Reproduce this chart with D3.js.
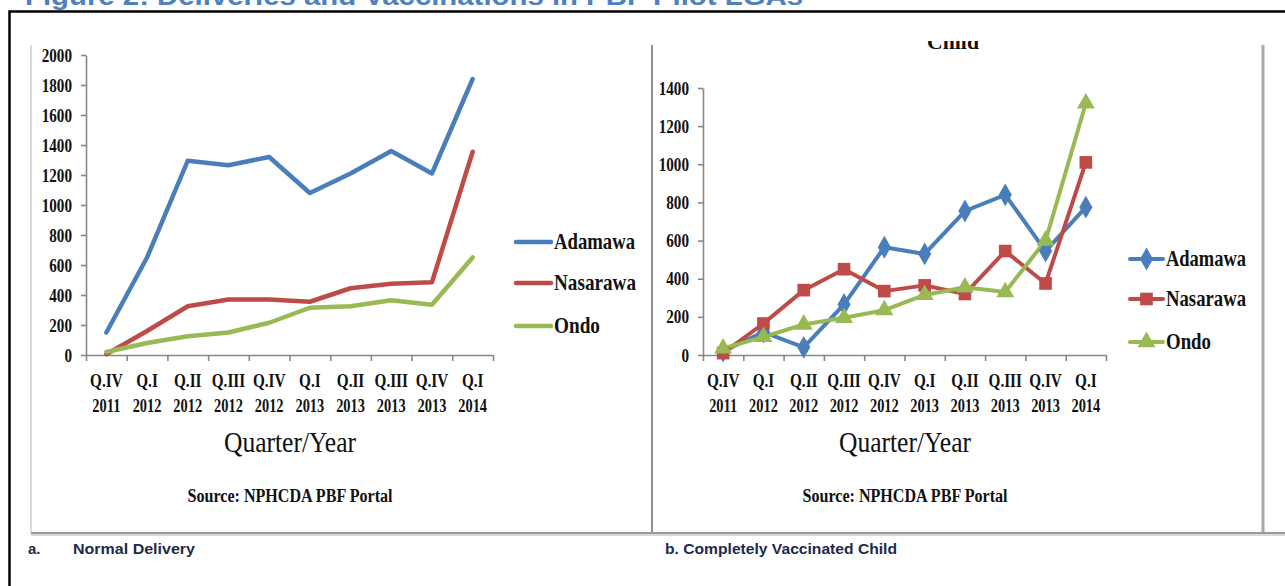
<!DOCTYPE html>
<html><head><meta charset="utf-8">
<script src="https://cdn.jsdelivr.net/npm/d3@7"></script>
<style>body{margin:0;background:#fff;} svg{display:block}</style>
</head><body><svg id="c" width="1285" height="586"></svg>
<script>
// ---- data ----
const quarters = ["Q.IV","Q.I","Q.II","Q.III","Q.IV","Q.I","Q.II","Q.III","Q.IV","Q.I"];
const years = ["2011","2012","2012","2012","2012","2013","2013","2013","2013","2014"];
const seriesNames = ["Adamawa","Nasarawa","Ondo"];
const seriesColors = ["#4A7EBB","#BE4B48","#98B954"];
const deliveryAdamawa = [150,650,1295,1265,1320,1080,1210,1360,1210,1840];
const deliveryNasarawa = [5,160,325,370,370,355,445,475,485,1355];
const deliveryOndo = [20,80,125,150,215,315,325,365,335,650];
const vaccAdamawa = [20,120,40,265,565,530,755,840,545,775];
const vaccNasarawa = [10,165,340,450,335,365,320,545,375,1010];
const vaccOndo = [35,95,160,195,235,315,355,330,600,1320];
const deliveryTicks = d3.range(0, 2001, 200);
const vaccTicks = d3.range(0, 1401, 200);
const figureTitle = "Figure 2: Deliveries and Vaccinations in PBF Pilot LGAs";
const axisTitle = "Quarter/Year";
const sourceText = "Source: NPHCDA PBF Portal";
const captionA = ["a.", "Normal Delivery"];
const captionB = "b. Completely Vaccinated Child";

const svg = d3.select("#c");
const SERIF = "'Liberation Serif','Times New Roman',serif";
const SANS = "'Liberation Sans',Arial,sans-serif";
const INK = "#111";

function label(parent, x, y, str, o) {
  const g = parent.append("g").attr("transform", `translate(${x},${y}) scale(${o.sx||1},1)`);
  const t = g.append("text")
    .attr("text-anchor", o.anchor || "middle")
    .attr("font-family", o.family || SERIF)
    .attr("font-size", o.size)
    .attr("font-weight", o.weight || "bold")
    .attr("fill", o.fill || INK)
    .text(str);
  if (o.len) t.attr("textLength", o.len).attr("lengthAdjust", "spacingAndGlyphs");
  return t;
}

// ---- figure title (clipped at top, as in the source page) ----
svg.append("text").attr("x", 25).attr("y", 5)
  .attr("font-family", SANS).attr("font-weight", "bold").attr("font-size", 26)
  .attr("fill", "#4F81BD").attr("textLength", 778).attr("lengthAdjust", "spacingAndGlyphs")
  .text(figureTitle);

// ---- frames ----
svg.append("path").attr("d", "M9.5,586V11.5H1285").attr("fill", "none").attr("stroke", "#000").attr("stroke-width", 2.5);
svg.append("line").attr("x1", 31).attr("x2", 31).attr("y1", 45).attr("y2", 533).attr("stroke", "#dadada").attr("stroke-width", 2);
svg.append("line").attr("x1", 652).attr("x2", 652).attr("y1", 45).attr("y2", 533).attr("stroke", "#8f8f8f").attr("stroke-width", 2);
svg.append("line").attr("x1", 1263).attr("x2", 1263).attr("y1", 45).attr("y2", 533).attr("stroke", "#a8a8a8").attr("stroke-width", 3);
svg.append("line").attr("x1", 31).attr("x2", 1285).attr("y1", 535).attr("y2", 535).attr("stroke", "#d8d8d8").attr("stroke-width", 2);
svg.append("line").attr("x1", 31).attr("x2", 1285).attr("y1", 533).attr("y2", 533).attr("stroke", "#9a9a9a").attr("stroke-width", 2);

// ---- chart builder ----
function chart(cfg) {
  const g = svg.append("g");
  const x = d3.scaleBand().domain(d3.range(quarters.length)).range([cfg.x0, cfg.x1]).paddingInner(0).paddingOuter(0);
  const xb = d3.scaleLinear().domain([0, quarters.length]).range([cfg.x0, cfg.x1]);
  const y = d3.scaleLinear().domain([0, cfg.max]).range([cfg.yb, cfg.yt]);
  const cx = i => x(i) + x.bandwidth() / 2;

  const ya = g.append("g").attr("transform", `translate(${cfg.x0},0)`)
    .call(d3.axisLeft(y).tickValues(cfg.ticks).tickSize(5).tickSizeOuter(0).tickFormat(""));
  const xa = g.append("g").attr("transform", `translate(0,${cfg.yb})`)
    .call(d3.axisBottom(xb).tickValues(d3.range(quarters.length + 1)).tickSize(6).tickSizeOuter(0).tickFormat(""));
  [ya, xa].forEach(a => {
    a.selectAll("path,line").attr("stroke", "#888").attr("stroke-width", 1.6);
  });

  cfg.ticks.forEach(v => label(g, cfg.x0 - 14, y(v) + 6.5, String(v), {size: 18.5, sx: 0.82, anchor: "end"}));
  quarters.forEach((q, i) => {
    label(g, cx(i), cfg.yb + 32, q, {size: 19.5, sx: 0.78});
    label(g, cx(i), cfg.yb + 57, years[i], {size: 19.5, sx: 0.74});
  });
  label(g, cfg.titleX, 452, axisTitle, {size: 30, weight: "normal", len: 132});
  label(g, cfg.titleX, 502, sourceText, {size: 18, len: 205});

  const line = d3.line().x((d, i) => cx(i)).y(d => y(d));
  const syms = [d3.symbolDiamond, d3.symbolSquare, d3.symbolTriangle];
  const symSize = [150, 160, 140];
  cfg.series.forEach((s, k) => {
    g.append("path").datum(s).attr("d", line).attr("fill", "none")
      .attr("stroke", seriesColors[k]).attr("stroke-width", cfg.lw)
      .attr("stroke-linejoin", "round").attr("stroke-linecap", "round");
  });
  if (cfg.markers) {
    cfg.series.forEach((s, k) => {
      g.selectAll(null).data(s).join("path")
        .attr("transform", (d, i) => `translate(${cx(i)},${y(d)})`)
        .attr("d", d3.symbol().type(syms[k]).size(symSize[k]))
        .attr("fill", seriesColors[k]);
    });
  }
  seriesNames.forEach((n, k) => {
    const ly = cfg.legY[k];
    g.append("line").attr("x1", cfg.legX0).attr("x2", cfg.legX1).attr("y1", ly).attr("y2", ly)
      .attr("stroke", seriesColors[k]).attr("stroke-width", cfg.lw).attr("stroke-linecap", "round");
    if (cfg.markers) {
      g.append("path").attr("transform", `translate(${(cfg.legX0 + cfg.legX1) / 2},${ly})`)
        .attr("d", d3.symbol().type(syms[k]).size(symSize[k])).attr("fill", seriesColors[k]);
    }
    label(g, cfg.legX1 + 3, ly + 7, n, {size: 24, anchor: "start", len: cfg.legLen[k]});
  });
  return g;
}

chart({x0: 86, x1: 493, yt: 55, yb: 355, max: 2000, ticks: deliveryTicks,
  series: [deliveryAdamawa, deliveryNasarawa, deliveryOndo], markers: false, lw: 4.5,
  titleX: 290, legX0: 516, legX1: 551, legY: [242, 283, 326], legLen: [81, 82, 46]});

chart({x0: 703, x1: 1106, yt: 88, yb: 355, max: 1400, ticks: vaccTicks,
  series: [vaccAdamawa, vaccNasarawa, vaccOndo], markers: true, lw: 4,
  titleX: 905, legX0: 1130, legX1: 1163, legY: [259, 299, 342], legLen: [80, 80, 45]});

// clipped remnant of right chart title
const defs = svg.append("defs");
defs.append("clipPath").attr("id", "tclip").append("rect").attr("x", 900).attr("y", 41).attr("width", 120).attr("height", 20);
svg.append("text").attr("x", 927).attr("y", 49).attr("clip-path", "url(#tclip)")
  .attr("font-family", SERIF).attr("font-weight", "bold").attr("font-size", 22).attr("fill", INK)
  .attr("textLength", 52).attr("lengthAdjust", "spacingAndGlyphs").text("Child");

// captions
const CAP = "#1d2a4a";
svg.append("text").attr("x", 28).attr("y", 554).attr("font-family", SANS).attr("font-weight", "bold")
  .attr("font-size", 15).attr("fill", CAP).text(captionA[0]);
svg.append("text").attr("x", 73).attr("y", 554).attr("font-family", SANS).attr("font-weight", "bold")
  .attr("font-size", 15).attr("fill", CAP).attr("textLength", 122).attr("lengthAdjust", "spacingAndGlyphs").text(captionA[1]);
svg.append("text").attr("x", 665).attr("y", 554).attr("font-family", SANS).attr("font-weight", "bold")
  .attr("font-size", 15).attr("fill", CAP).attr("textLength", 232).attr("lengthAdjust", "spacingAndGlyphs").text(captionB);
</script></body></html>
